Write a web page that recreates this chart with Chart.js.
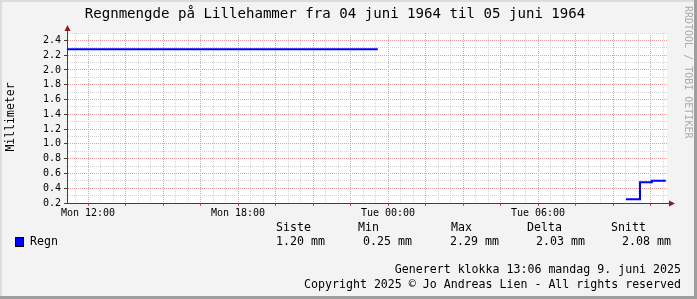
<!DOCTYPE html>
<html>
<head>
<meta charset="utf-8">
<script src="https://cdn.jsdelivr.net/npm/chart.js@4/dist/chart.umd.min.js"></script>
<style>
  html, body { margin: 0; padding: 0; background: #f3f3f3; }
  #chart { display: block; }
</style>
</head>
<body>
<canvas id="chart" width="697" height="299"></canvas>
<script>
// timer regnet fra mandag 00:00
const times = [11.16, 23.59, 23.60, 33.52, 34.08, 34.55, 35.11];
const rain  = [2.28, 2.28, null, 0.25, 0.48, 0.50, 0.50];

const xTickHours  = [12, 18, 24, 30];
const xTickLabels = ['Mon 12:00', 'Mon 18:00', 'Tue 00:00', 'Tue 06:00'];
const yTickValues = [0.2, 0.4, 0.6, 0.8, 1.0, 1.2, 1.4, 1.6, 1.8, 2.0, 2.2, 2.4];
const yTickLabels = ['0.2', '0.4', '0.6', '0.8', '1.0', '1.2', '1.4', '1.6', '1.8', '2.0', '2.2', '2.4'];

const statNames  = ['Siste', 'Min', 'Max', 'Delta', 'Snitt'];
const statValues = ['1.20 mm', '0.25 mm', '2.29 mm', '2.03 mm', '2.08 mm'];

const MONO = '"DejaVu Sans Mono", monospace';
const MAJOR = '#eb9d9d';
const MINOR = '#d4d4d4';
const AXIS = '#404040';

const isMajorX = v => Math.abs(v / 1.5 - Math.round(v / 1.5)) < 1e-6;
const isMajorY = v => yTickValues.some(t => Math.abs(t - v) < 1e-6);

const rrdPlugin = {
    id: 'rrd',
    beforeDraw(chart) {
        const { ctx, chartArea: a, width, height } = chart;
        ctx.save();
        ctx.fillStyle = '#f3f3f3';
        ctx.fillRect(0, 0, width, height);
        ctx.fillStyle = '#ffffff';
        ctx.fillRect(a.left, a.top, a.right - a.left, a.bottom - a.top);
        // ramme
        ctx.fillStyle = '#dcdcdc';
        ctx.fillRect(0, 0, width, 2);
        ctx.fillRect(0, 0, 2, height);
        ctx.fillStyle = '#9e9e9e';
        ctx.fillRect(width - 3, 0, 3, height);
        ctx.fillRect(0, height - 3, width, 3);
        ctx.restore();
    },
    afterDraw(chart) {
        const { ctx, chartArea: a } = chart;
        ctx.save();
        // aksepiler
        ctx.strokeStyle = AXIS;
        ctx.lineWidth = 1;
        ctx.beginPath();
        ctx.moveTo(a.left + 0.5, a.top);
        ctx.lineTo(a.left + 0.5, a.top - 5);
        ctx.moveTo(a.right, a.bottom + 0.5);
        ctx.lineTo(a.right + 3, a.bottom + 0.5);
        ctx.stroke();
        ctx.fillStyle = '#8b1c1c';
        ctx.beginPath();
        ctx.moveTo(a.left + 0.5, a.top - 8);
        ctx.lineTo(a.left + 3.5, a.top - 2);
        ctx.lineTo(a.left - 2.5, a.top - 2);
        ctx.closePath();
        ctx.fill();
        ctx.beginPath();
        ctx.moveTo(a.right + 8, a.bottom + 0.5);
        ctx.lineTo(a.right + 2, a.bottom - 2.5);
        ctx.lineTo(a.right + 2, a.bottom + 3.5);
        ctx.closePath();
        ctx.fill();

        ctx.fillStyle = '#000';
        ctx.textBaseline = 'middle';
        // tittel
        ctx.font = '14.1px ' + MONO;
        ctx.textAlign = 'center';
        ctx.fillText('Regnmengde på Lillehammer fra 04 juni 1964 til 05 juni 1964', 335, 14);

        // enhet
        ctx.font = '11.5px ' + MONO;
        ctx.save();
        ctx.translate(11, 117);
        ctx.rotate(-Math.PI / 2);
        ctx.fillText('Millimeter', 0, 0);
        ctx.restore();

        // vannmerke
        ctx.save();
        ctx.fillStyle = '#ababab';
        ctx.font = '10px ' + MONO;
        ctx.translate(688, 6);
        ctx.rotate(Math.PI / 2);
        ctx.textAlign = 'left';
        ctx.fillText('RRDTOOL / TOBI OETIKER', 0, 0);
        ctx.restore();

        // forklaring
        ctx.font = '11.6px ' + MONO;
        ctx.textAlign = 'left';
        const headX = [276, 358, 451, 527, 611];
        const valX = [276, 363, 450, 536, 622];
        statNames.forEach((s, i) => ctx.fillText(s, headX[i], 228));
        statValues.forEach((s, i) => ctx.fillText(s, valX[i], 242));
        ctx.fillStyle = '#0000ff';
        ctx.fillRect(15, 237, 8, 9);
        ctx.strokeStyle = '#000';
        ctx.strokeRect(15.5, 237.5, 8, 9);
        ctx.fillStyle = '#000';
        ctx.fillText('Regn', 30, 242);

        ctx.textAlign = 'right';
        ctx.fillText('Generert klokka 13:06 mandag 9. juni 2025', 681, 270);
        ctx.fillText('Copyright 2025 © Jo Andreas Lien - All rights reserved', 681, 285);
        ctx.restore();
    }
};

new Chart(document.getElementById('chart'), {
    type: 'line',
    data: {
        datasets: [{
            label: 'Regn',
            data: times.map((t, i) => ({ x: t, y: rain[i] })),
            borderColor: '#0000ff',
            borderWidth: 2,
            pointRadius: 0,
            stepped: 'before',
            spanGaps: false,
            fill: false
        }]
    },
    options: {
        responsive: false,
        animation: false,
        layout: { padding: { top: 33, right: 30, left: 0, bottom: 0 } },
        plugins: { legend: { display: false }, tooltip: { enabled: false }, title: { display: false } },
        scales: {
            x: {
                type: 'linear',
                min: 11.16,
                max: 35.16,
                afterFit: s => { s.height = 96; },
                afterBuildTicks: s => {
                    const ticks = [];
                    for (let k = Math.ceil(s.min * 2); k <= Math.floor(s.max * 2); k++) ticks.push({ value: k / 2 });
                    s.ticks = ticks;
                },
                grid: {
                    color: c => isMajorX(c.tick.value) ? MAJOR : MINOR,
                    tickColor: c => isMajorX(c.tick.value) ? '#e05050' : 'transparent',
                    tickLength: 3,
                    lineWidth: 1
                },
                border: { color: AXIS, width: 1, dash: [1, 1] },
                ticks: {
                    autoSkip: false,
                    maxRotation: 0,
                    padding: 1,
                    color: '#000',
                    font: { family: MONO, size: 10 },
                    callback: v => {
                        const i = xTickHours.indexOf(v);
                        return i >= 0 ? xTickLabels[i] : '';
                    }
                }
            },
            y: {
                min: 0.2,
                max: 2.5,
                afterFit: s => { s.width = 67; },
                afterBuildTicks: s => {
                    const ticks = [];
                    for (let k = 2; k <= 25; k++) ticks.push({ value: k / 10 });
                    s.ticks = ticks;
                },
                grid: {
                    color: c => isMajorY(c.tick.value) ? MAJOR : MINOR,
                    tickColor: c => isMajorY(c.tick.value) ? AXIS : 'transparent',
                    tickLength: 3,
                    lineWidth: 1
                },
                border: { color: AXIS, width: 1, dash: [1, 1] },
                ticks: {
                    autoSkip: false,
                    padding: 3,
                    color: '#000',
                    font: { family: MONO, size: 10 },
                    callback: v => {
                        const i = yTickValues.findIndex(t => Math.abs(t - v) < 1e-6);
                        return i >= 0 ? yTickLabels[i] : '';
                    }
                }
            }
        }
    },
    plugins: [rrdPlugin]
});
</script>
</body>
</html>
